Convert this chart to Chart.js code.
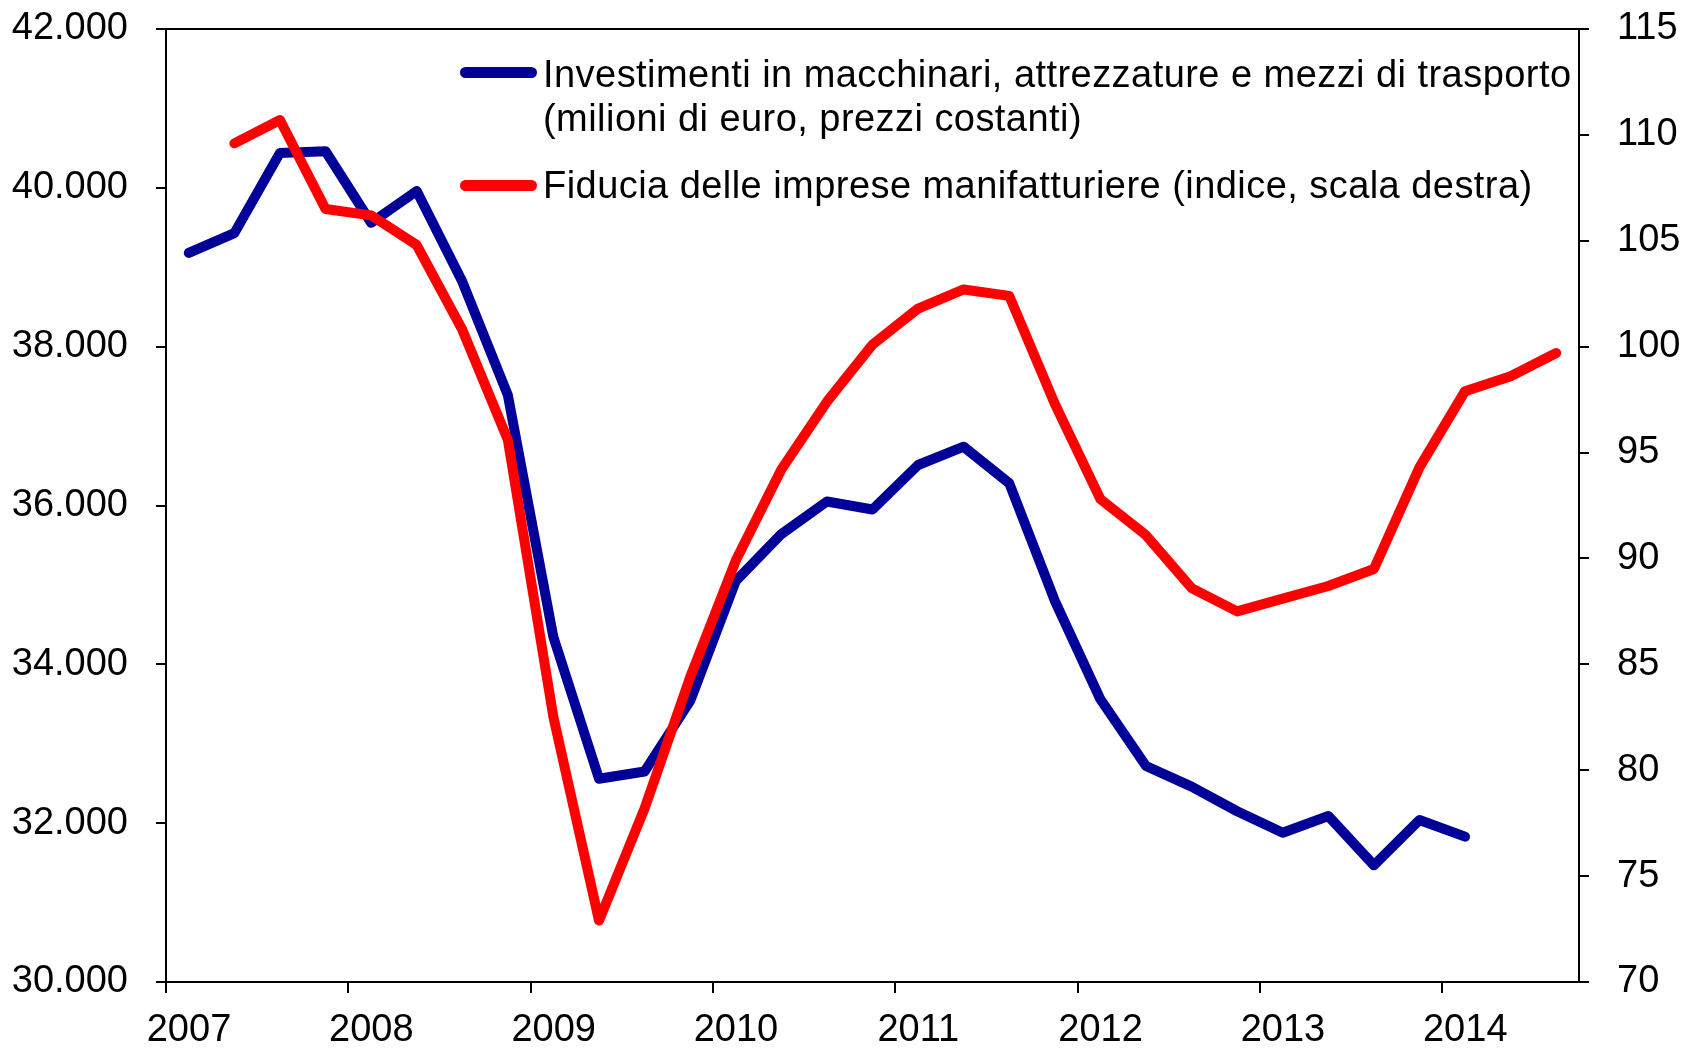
<!DOCTYPE html>
<html>
<head>
<meta charset="utf-8">
<script src="https://cdn.jsdelivr.net/npm/chart.js@4.4.0/dist/chart.umd.min.js"></script>
<style>
body{margin:0;background:#fff;}
#wrap{position:relative;width:1683px;height:1048px;}
.leg{position:absolute;font-family:"Liberation Sans",Arial,sans-serif;font-size:38px;line-height:44px;color:#000;white-space:nowrap;letter-spacing:0.45px;}
.sw{position:absolute;left:460px;width:77px;height:11px;border-radius:6px;}
</style>
</head>
<body>
<div id="wrap">
<canvas id="chart" width="1683" height="1048"></canvas>
<div class="sw" style="top:67px;background:#000099"></div>
<div class="leg" id="lab1" style="left:543px;top:52px"></div>
<div class="sw" style="top:180px;background:#ff0000"></div>
<div class="leg" id="lab2" style="left:543px;top:163px"></div>
</div>
<script>
// trimestri (asse x)
const quarters = [
"2007T1","2007T2","2007T3","2007T4",
"2008T1","2008T2","2008T3","2008T4",
"2009T1","2009T2","2009T3","2009T4",
"2010T1","2010T2","2010T3","2010T4",
"2011T1","2011T2","2011T3","2011T4",
"2012T1","2012T2","2012T3","2012T4",
"2013T1","2013T2","2013T3","2013T4",
"2014T1","2014T2","2014T3"
];

// milioni di euro, prezzi costanti (scala sinistra)
const investimenti = [
39180,39430,40440,40460,
39560,39960,38820,37390,
34340,32560,32650,33540,
35050,35640,36050,35950,
36510,36740,36280,34800,
33560,32720,32460,32150,
31880,32090,31470,32040,
31830,null,null
];

// indice (scala destra)
const fiducia = [
null,109.6,110.7,106.5,
106.2,104.8,100.8,95.6,
82.5,72.9,78.2,84.4,
89.9,94.2,97.4,100.1,
101.8,102.7,102.4,97.3,
92.8,91.1,88.6,87.5,
88.1,88.7,89.5,94.3,
97.9,98.6,99.7
];

const years = [2007,2008,2009,2010,2011,2012,2013,2014];
const leftTicks = [30000,32000,34000,36000,38000,40000,42000];
const rightTicks = [70,75,80,85,90,95,100,105,110,115];

const label1 = ["Investimenti in macchinari, attrezzature e mezzi di trasporto","(milioni di euro, prezzi costanti)"];
const label2 = "Fiducia delle imprese manifatturiere (indice, scala destra)";

document.getElementById("lab1").innerHTML = label1.join("<br>");
document.getElementById("lab2").textContent = label2;

// posizione del trimestre: centro del trimestre
function qPos(q){
let y = parseInt(q.slice(0,4));
let t = parseInt(q.slice(5));
return y + (t-0.5)/4;
}

function toPoints(arr){
return quarters.map((q,i)=>({x:qPos(q), y:arr[i]})).filter(p=>p.y!==null);
}

function fmt(v){
return (v/1000).toFixed(0)+".000";
}

const frameTop = {
id:"frameTop",
afterDraw(c){
let a=c.chartArea, ctx=c.ctx;
ctx.save();
ctx.strokeStyle="#000";
ctx.lineWidth=2;
ctx.beginPath();
ctx.moveTo(a.left,a.top);
ctx.lineTo(a.right,a.top);
ctx.stroke();
ctx.restore();
}
};

Chart.defaults.font.family = "'Liberation Sans', Arial, sans-serif";
Chart.defaults.font.size = 38;
Chart.defaults.color = "#000";

const axisGrid = {drawOnChartArea:false, color:"#000", lineWidth:2, tickLength:10};
const axisBorder = {color:"#000", width:2};

// larghezza fissa dell'asse, senza margini extra per le etichette
function fixY(w){
return s=>{s.width=w; s.paddingTop=0; s.paddingBottom=0;};
}

new Chart(document.getElementById("chart"),{
type:"line",
data:{
datasets:[
{
label:label1.join(" "),
data:toPoints(investimenti),
yAxisID:"y",
borderColor:"#000099",
borderWidth:10,
pointRadius:0,
borderJoinStyle:"round",
borderCapStyle:"round",
order:1
},
{
label:label2,
data:toPoints(fiducia),
yAxisID:"y1",
borderColor:"#ff0000",
borderWidth:10,
pointRadius:0,
borderJoinStyle:"round",
borderCapStyle:"round",
order:0
}
]
},
options:{
responsive:false,
animation:false,
layout:{padding:{top:29,left:0,right:0,bottom:0}},
plugins:{legend:{display:false},tooltip:{enabled:false}},
scales:{
x:{
type:"linear",
min:2007,
max:2014.75,
afterBuildTicks:s=>{s.ticks=years.map(v=>({value:v}));},
afterFit:s=>{s.height=66;},
ticks:{padding:15,maxRotation:0,autoSkip:false,labelOffset:23,callback:v=>String(v)},
grid:{drawOnChartArea:false,color:"#000",lineWidth:2,tickLength:11},
border:axisBorder
},
y:{
position:"left",
min:30000,
max:42000,
afterBuildTicks:s=>{s.ticks=leftTicks.map(v=>({value:v}));},
afterFit:fixY(166),
ticks:{padding:28,callback:v=>fmt(v)},
grid:axisGrid,
border:axisBorder
},
y1:{
position:"right",
min:70,
max:115,
afterBuildTicks:s=>{s.ticks=rightTicks.map(v=>({value:v}));},
afterFit:fixY(104),
ticks:{padding:28},
grid:axisGrid,
border:axisBorder
}
}
},
plugins:[frameTop]
});
</script>
</body>
</html>
